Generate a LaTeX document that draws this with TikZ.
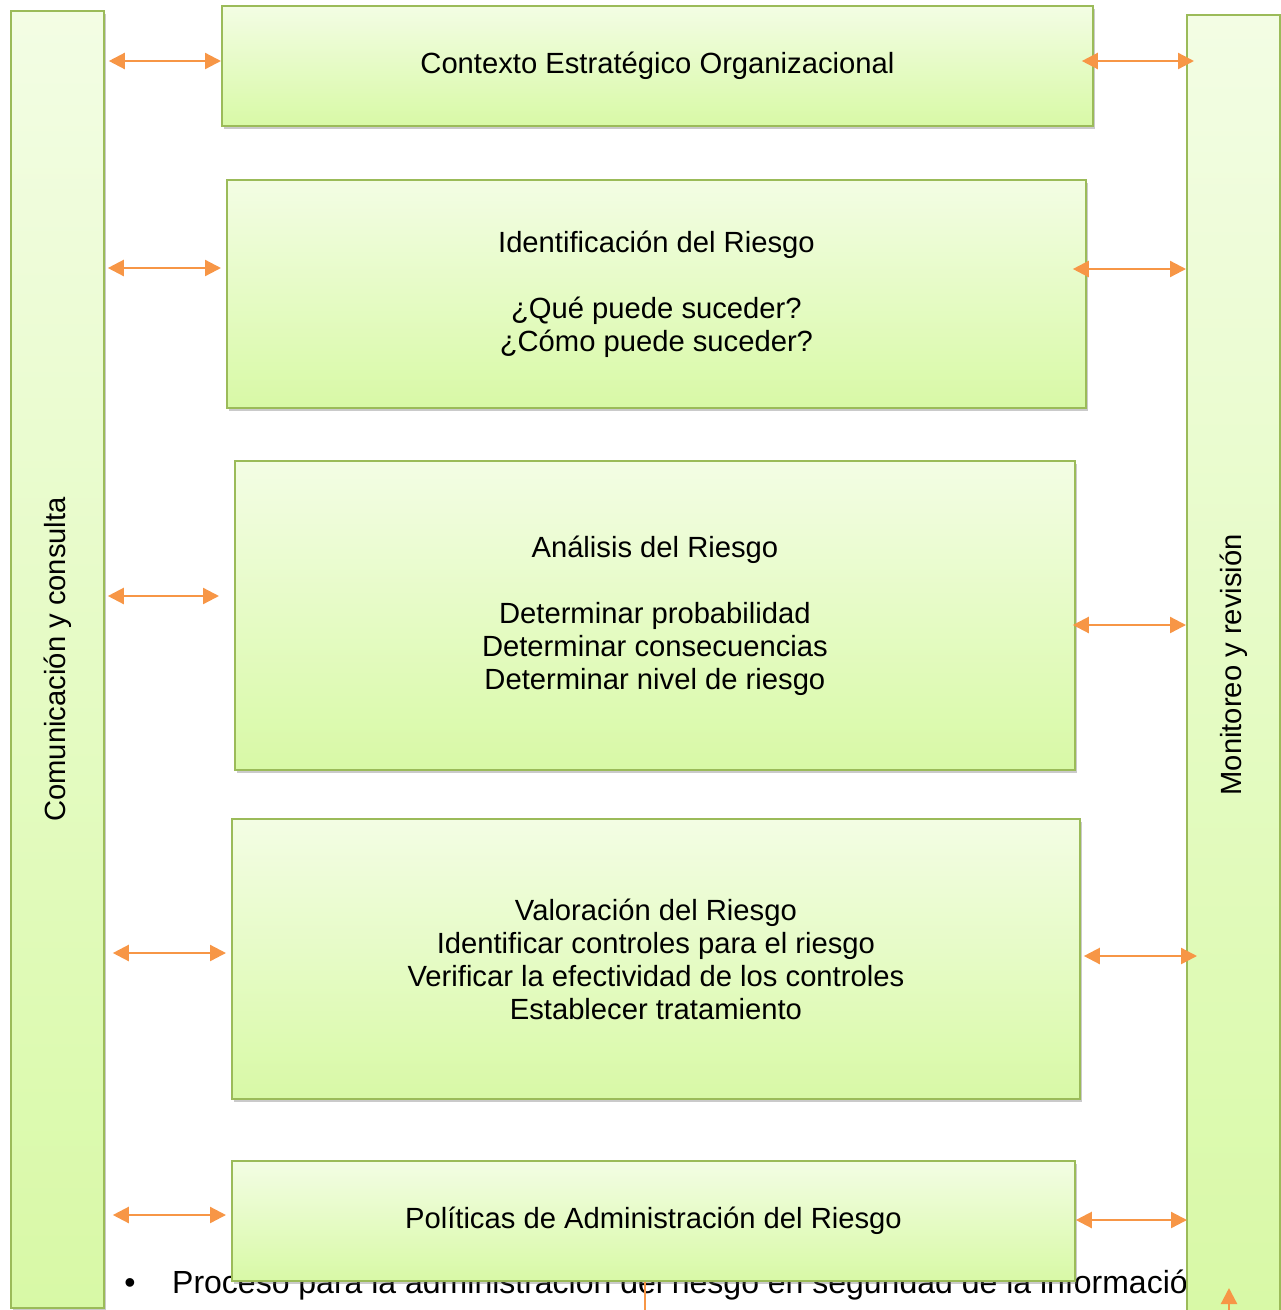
\documentclass[tikz,border=0pt]{standalone}
\usepackage{fontspec}
\setmainfont{Liberation Sans}
\usetikzlibrary{arrows.meta,shadows,calc}
\definecolor{gborder}{HTML}{9BBB59}
\definecolor{gtop}{HTML}{F3FDE4}
\definecolor{gbot}{HTML}{D8F9A6}
\definecolor{orA}{HTML}{F79646}
\tikzset{
  box/.style={draw=gborder, line width=1.8pt, top color=gtop, bottom color=gbot,
    anchor=north west, align=center, inner sep=0pt,
    font=\fontsize{29.2}{33}\selectfont,
    drop shadow={shadow xshift=2pt, shadow yshift=-3pt, opacity=0.35, fill=black!60}},
  arr/.style={draw=orA, line width=2.3pt, {Triangle[length=16pt,width=16pt]}-{Triangle[length=16pt,width=16pt]}},
  txt/.style={font=\fontsize{32}{36}\selectfont, inner sep=0pt},
}
\begin{document}
\begin{tikzpicture}[x=1pt,y=-1pt]
\useasboundingbox (0,0) rectangle (1281,1310);
% bottom caption (partly hidden behind the boxes)
\node[txt, anchor=base] (bul) at (130,1293) {•};
\node[txt, anchor=base west] (cap) at (172,1293) {Proceso para la administración del riesgo en seguridad de la información};
% side bars
\node[box, minimum width=93pt, minimum height=1297pt] (L) at (10,10) {\rotatebox{90}{Comunicación y consulta}};
% main boxes
\node[box, minimum width=871pt, minimum height=120pt] (c1) at (221,5) {Contexto Estratégico Organizacional};
\node[box, minimum width=859pt, minimum height=228pt] (c2) at (226,179) {Identificación del Riesgo\\[33pt]¿Qué puede suceder?\\¿Cómo puede suceder?};
\node[box, minimum width=840pt, minimum height=309pt] (c3) at (234,460) {Análisis del Riesgo\\[33pt]Determinar probabilidad\\Determinar consecuencias\\Determinar nivel de riesgo};
\node[box, minimum width=848pt, minimum height=280pt] (c4) at (231,818) {Valoración del Riesgo\\Identificar controles para el riesgo\\Verificar la efectividad de los controles\\Establecer tratamiento};
\node[box, minimum width=843pt, minimum height=120pt] (c5) at (231,1160) {Políticas de Administración del Riesgo};
\node[box, minimum width=93pt, minimum height=1300pt] (R) at (1186,14) {\rotatebox{90}{Monitoreo y revisión}};
% left arrows
\draw[arr] ($(L.east |- 0,61)+(4,0)$) -- (c1.west |- 0,61);
\draw[arr] ($(L.east |- 0,268)+(3,0)$) -- ($(c2.west |- 0,268)+(-5,0)$);
\draw[arr] ($(L.east |- 0,596)+(3,0)$) -- ($(c3.west |- 0,596)+(-15,0)$);
\draw[arr] ($(L.east |- 0,953)+(8,0)$) -- ($(c4.west |- 0,953)+(-5,0)$);
\draw[arr] ($(L.east |- 0,1215)+(8,0)$) -- ($(c5.west |- 0,1215)+(-5,0)$);
% right arrows
\draw[arr] ($(c1.east |- 0,61)+(-12,0)$) -- ($(R.west |- 0,61)+(8,0)$);
\draw[arr] ($(c2.east |- 0,269)+(-14,0)$) -- (R.west |- 0,269);
\draw[arr] ($(c3.east |- 0,625)+(-3,0)$) -- (R.west |- 0,625);
\draw[arr] ($(c4.east |- 0,956)+(3,0)$) -- ($(R.west |- 0,956)+(11,0)$);
\draw[arr] (c5.east |- 0,1220) -- ($(R.west |- 0,1220)+(1,0)$);
% stray connectors at the bottom
\coordinate (s1) at (645,1312);
\draw[draw=orA, line width=1.5pt] (c5.south -| s1) -- (s1);
\coordinate (s2) at (1229,1312);
\coordinate (s3) at (1229,1288);
\draw[draw=orA, line width=2.3pt, -{Triangle[length=16pt,width=16pt]}] (s2) -- (s3);
\end{tikzpicture}
\end{document}
